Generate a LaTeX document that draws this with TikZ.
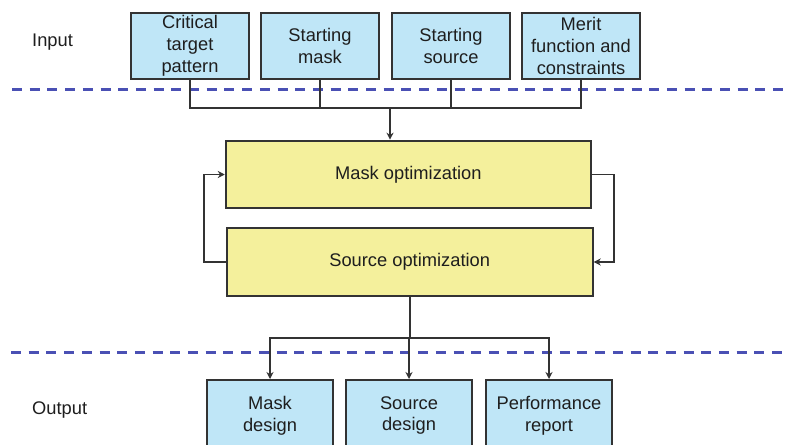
\documentclass[tikz,border=0pt]{standalone}
\usepackage{fontspec}
\setmainfont{Liberation Sans}
\usetikzlibrary{arrows.meta}
\definecolor{boxblue}{HTML}{BFE6F7}
\definecolor{boxyellow}{HTML}{F4F09C}
\definecolor{dashblue}{HTML}{4A50B4}
\definecolor{edge}{HTML}{333333}
\definecolor{txt}{HTML}{1E1E1E}
\begin{document}
\begin{tikzpicture}[x=1pt,y=-1pt,
  every node/.style={font=\fontsize{18.3}{21.8}\selectfont, text=txt},
  bluebox/.style={draw=edge, line width=2pt, fill=boxblue, inner sep=0pt, align=center},
  yellowbox/.style={draw=edge, line width=2pt, fill=boxyellow, inner sep=0pt, align=center},
  conn/.style={draw=edge, line width=1.8pt},
  arr/.style={conn, -{Stealth[length=7pt,width=7pt]}},
  sep/.style={draw=dashblue, line width=3pt, dash pattern=on 10pt off 7.7pt}
]
\useasboundingbox (0,0) rectangle (789,444);
\fill[white] (0,0) rectangle (789,444);

% separators
\coordinate (sepTopL) at (12,89);
\coordinate (sepTopR) at (789,89);
\coordinate (sepBotL) at (11,352);
\coordinate (sepBotR) at (789,352);
\draw[sep] (sepTopL) -- (sepTopR);
\draw[sep] (sepBotL) -- (sepBotR);

% labels
\node[anchor=west, inner sep=0pt] (inlab) at (32,42) {Input};
\node[anchor=west, inner sep=0pt] (outlab) at (32,410) {Output};

% input boxes
\node[bluebox, minimum width=118.6pt, minimum height=66.3pt] (crit) at (190,46) {Critical\\target\\pattern};
\node[bluebox, minimum width=118pt, minimum height=66.3pt] (smask) at (320,46) {Starting\\mask};
\node[bluebox, minimum width=118.3pt, minimum height=66.3pt] (ssrc) at (451,46) {Starting\\source};
\node[bluebox, minimum width=118pt, minimum height=66.3pt] (merit) at (581,46) {Merit\\function and\\constraints};

% optimization boxes
\node[yellowbox, minimum width=365.3pt, minimum height=67.6pt] (mopt) at (408.4,174.5) {Mask optimization};
\node[yellowbox, minimum width=366pt, minimum height=67.4pt] (sopt) at (409.7,262) {Source optimization};

% output boxes
\node[bluebox, minimum width=126.3pt, minimum height=71pt] (mdes) at (270,415.5) {Mask\\design};
\node[bluebox, minimum width=126pt, minimum height=71pt] (sdes) at (409,415.5) {Source\\design};
\node[bluebox, minimum width=126pt, minimum height=71pt] (perf) at (549,415.5) {Performance\\report};

% input merge
\coordinate (mergeL) at (190,108);
\coordinate (mergeR) at (581,108);
\coordinate (merge) at (390,108);
\draw[conn] (crit.south) -- (mergeL) -- (mergeR) -- (merit.south);
\draw[conn] (smask.south) -- (smask.south |- merge);
\draw[conn] (ssrc.south) -- (ssrc.south |- merge);
\draw[arr] (merge) -- (merge |- mopt.north);

% feedback loops
\coordinate (loopL) at (204,0);
\coordinate (loopR) at (614,0);
\draw[arr] (sopt.west) -- (loopL |- sopt.west) -- (loopL |- mopt.west) -- (mopt.west);
\draw[arr] (mopt.east) -- (loopR |- mopt.east) -- (loopR |- sopt.east) -- (sopt.east);

% output split
\coordinate (split) at (409.7,338);
\draw[conn] (sopt.south) -- (split);
\draw[arr] (split) -| (mdes.north);
\draw[arr] (split) -| (perf.north);
\draw[arr] (split) -- (split -| sdes.north) -- (sdes.north);
\end{tikzpicture}
\end{document}
